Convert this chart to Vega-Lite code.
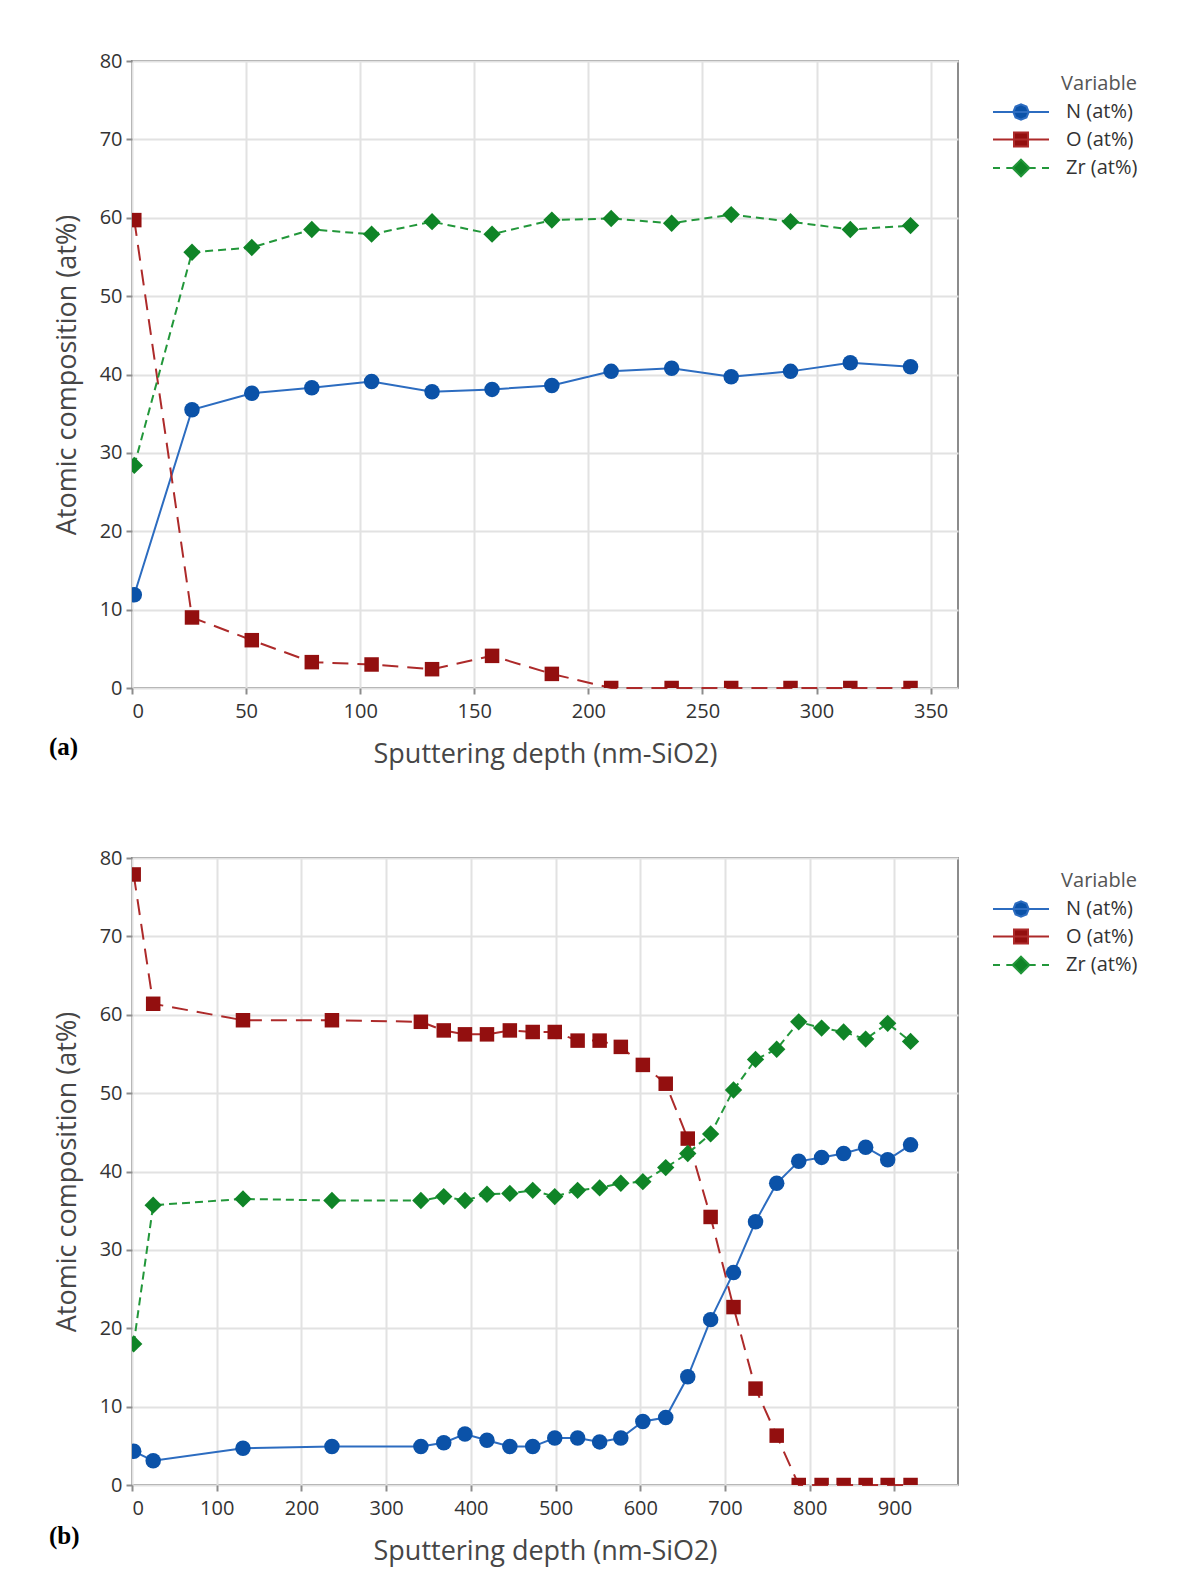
{
  "$schema": "https://vega.github.io/schema/vega-lite/v6.json",
  "background": "white",
  "padding": {"left": 48, "top": 50, "right": 0, "bottom": 20},
  "spacing": 79,
  "resolve": {
    "scale": {"shape": "independent", "fill": "independent", "stroke": "independent"},
    "legend": {"shape": "independent", "fill": "independent", "stroke": "independent"}
  },
  "config": {
    "font": "Open Sans",
    "view": {"stroke": "#8c8c8c", "strokeWidth": 2},
    "axis": {
      "labelFont": "Open Sans", "labelFontSize": 20, "labelColor": "#333333",
      "titleFont": "Open Sans", "titleFontSize": 27, "titleFontWeight": "normal", "titleColor": "#464646",
      "gridColor": "#e2e2e2", "gridWidth": 2, "domain": false,
      "tickColor": "#8c8c8c", "tickWidth": 2, "tickSize": 6
    },
    "axisY": {"titlePadding": 18, "labelPadding": 4},
    "axisX": {"titlePadding": 20, "labelPadding": 7},
    "legend": {
      "orient": "none", "legendX": 879, "legendY": 13, "padding": 0,
      "titleFont": "Open Sans", "titleFontSize": 20, "titleFontWeight": "normal", "titleColor": "#555555",
      "labelFont": "Open Sans", "labelFontSize": 20, "labelColor": "#333333",
      "symbolSize": 196, "symbolStrokeWidth": 2, "labelOffset": 35, "rowPadding": 4.5,
      "titlePadding": 8, "titleAnchor": "end"
    }
  },
  "datasets": {
    "a": [
      {"depth": 1, "Variable": "N (at%)", "value": 11.9},
      {"depth": 26.3, "Variable": "N (at%)", "value": 35.5},
      {"depth": 52.5, "Variable": "N (at%)", "value": 37.6},
      {"depth": 78.8, "Variable": "N (at%)", "value": 38.3},
      {"depth": 105, "Variable": "N (at%)", "value": 39.1},
      {"depth": 131.5, "Variable": "N (at%)", "value": 37.8},
      {"depth": 157.8, "Variable": "N (at%)", "value": 38.1},
      {"depth": 184, "Variable": "N (at%)", "value": 38.6},
      {"depth": 210, "Variable": "N (at%)", "value": 40.4},
      {"depth": 236.5, "Variable": "N (at%)", "value": 40.8},
      {"depth": 262.6, "Variable": "N (at%)", "value": 39.7},
      {"depth": 288.6, "Variable": "N (at%)", "value": 40.4},
      {"depth": 314.8, "Variable": "N (at%)", "value": 41.5},
      {"depth": 341.2, "Variable": "N (at%)", "value": 41.0},
      {"depth": 1, "Variable": "O (at%)", "value": 59.7},
      {"depth": 26.3, "Variable": "O (at%)", "value": 9.0},
      {"depth": 52.5, "Variable": "O (at%)", "value": 6.1},
      {"depth": 78.8, "Variable": "O (at%)", "value": 3.3},
      {"depth": 105, "Variable": "O (at%)", "value": 3.0},
      {"depth": 131.5, "Variable": "O (at%)", "value": 2.4},
      {"depth": 157.8, "Variable": "O (at%)", "value": 4.1},
      {"depth": 184, "Variable": "O (at%)", "value": 1.8},
      {"depth": 210, "Variable": "O (at%)", "value": 0},
      {"depth": 236.5, "Variable": "O (at%)", "value": 0},
      {"depth": 262.6, "Variable": "O (at%)", "value": 0},
      {"depth": 288.6, "Variable": "O (at%)", "value": 0},
      {"depth": 314.8, "Variable": "O (at%)", "value": 0},
      {"depth": 341.2, "Variable": "O (at%)", "value": 0},
      {"depth": 1, "Variable": "Zr (at%)", "value": 28.4},
      {"depth": 26.3, "Variable": "Zr (at%)", "value": 55.6},
      {"depth": 52.5, "Variable": "Zr (at%)", "value": 56.2},
      {"depth": 78.8, "Variable": "Zr (at%)", "value": 58.5},
      {"depth": 105, "Variable": "Zr (at%)", "value": 57.9},
      {"depth": 131.5, "Variable": "Zr (at%)", "value": 59.5},
      {"depth": 157.8, "Variable": "Zr (at%)", "value": 57.9},
      {"depth": 184, "Variable": "Zr (at%)", "value": 59.7},
      {"depth": 210, "Variable": "Zr (at%)", "value": 59.9},
      {"depth": 236.5, "Variable": "Zr (at%)", "value": 59.3},
      {"depth": 262.6, "Variable": "Zr (at%)", "value": 60.4},
      {"depth": 288.6, "Variable": "Zr (at%)", "value": 59.5},
      {"depth": 314.8, "Variable": "Zr (at%)", "value": 58.5},
      {"depth": 341.2, "Variable": "Zr (at%)", "value": 59.0}
    ],
    "b": [
      {"depth": 2, "Variable": "N (at%)", "value": 4.3},
      {"depth": 25, "Variable": "N (at%)", "value": 3.1},
      {"depth": 131, "Variable": "N (at%)", "value": 4.7},
      {"depth": 236, "Variable": "N (at%)", "value": 4.9},
      {"depth": 341, "Variable": "N (at%)", "value": 4.9},
      {"depth": 368, "Variable": "N (at%)", "value": 5.4},
      {"depth": 393, "Variable": "N (at%)", "value": 6.5},
      {"depth": 419, "Variable": "N (at%)", "value": 5.7},
      {"depth": 446, "Variable": "N (at%)", "value": 4.9},
      {"depth": 473, "Variable": "N (at%)", "value": 4.9},
      {"depth": 499, "Variable": "N (at%)", "value": 6.0},
      {"depth": 526, "Variable": "N (at%)", "value": 6.0},
      {"depth": 552, "Variable": "N (at%)", "value": 5.5},
      {"depth": 577, "Variable": "N (at%)", "value": 6.0},
      {"depth": 603, "Variable": "N (at%)", "value": 8.1},
      {"depth": 630, "Variable": "N (at%)", "value": 8.6},
      {"depth": 656, "Variable": "N (at%)", "value": 13.8},
      {"depth": 683, "Variable": "N (at%)", "value": 21.1},
      {"depth": 710, "Variable": "N (at%)", "value": 27.1},
      {"depth": 736, "Variable": "N (at%)", "value": 33.6},
      {"depth": 761, "Variable": "N (at%)", "value": 38.5},
      {"depth": 787, "Variable": "N (at%)", "value": 41.3},
      {"depth": 814, "Variable": "N (at%)", "value": 41.8},
      {"depth": 840, "Variable": "N (at%)", "value": 42.3},
      {"depth": 866, "Variable": "N (at%)", "value": 43.1},
      {"depth": 892, "Variable": "N (at%)", "value": 41.5},
      {"depth": 919, "Variable": "N (at%)", "value": 43.4},
      {"depth": 2, "Variable": "O (at%)", "value": 77.9},
      {"depth": 25, "Variable": "O (at%)", "value": 61.4},
      {"depth": 131, "Variable": "O (at%)", "value": 59.3},
      {"depth": 236, "Variable": "O (at%)", "value": 59.3},
      {"depth": 341, "Variable": "O (at%)", "value": 59.1},
      {"depth": 368, "Variable": "O (at%)", "value": 58.0},
      {"depth": 393, "Variable": "O (at%)", "value": 57.5},
      {"depth": 419, "Variable": "O (at%)", "value": 57.5},
      {"depth": 446, "Variable": "O (at%)", "value": 58.0},
      {"depth": 473, "Variable": "O (at%)", "value": 57.8},
      {"depth": 499, "Variable": "O (at%)", "value": 57.8},
      {"depth": 526, "Variable": "O (at%)", "value": 56.7},
      {"depth": 552, "Variable": "O (at%)", "value": 56.7},
      {"depth": 577, "Variable": "O (at%)", "value": 55.9},
      {"depth": 603, "Variable": "O (at%)", "value": 53.6},
      {"depth": 630, "Variable": "O (at%)", "value": 51.2},
      {"depth": 656, "Variable": "O (at%)", "value": 44.2},
      {"depth": 683, "Variable": "O (at%)", "value": 34.2},
      {"depth": 710, "Variable": "O (at%)", "value": 22.7},
      {"depth": 736, "Variable": "O (at%)", "value": 12.3},
      {"depth": 761, "Variable": "O (at%)", "value": 6.3},
      {"depth": 787, "Variable": "O (at%)", "value": 0},
      {"depth": 814, "Variable": "O (at%)", "value": 0},
      {"depth": 840, "Variable": "O (at%)", "value": 0},
      {"depth": 866, "Variable": "O (at%)", "value": 0},
      {"depth": 892, "Variable": "O (at%)", "value": 0},
      {"depth": 919, "Variable": "O (at%)", "value": 0},
      {"depth": 2, "Variable": "Zr (at%)", "value": 18.0},
      {"depth": 25, "Variable": "Zr (at%)", "value": 35.7},
      {"depth": 131, "Variable": "Zr (at%)", "value": 36.5},
      {"depth": 236, "Variable": "Zr (at%)", "value": 36.3},
      {"depth": 341, "Variable": "Zr (at%)", "value": 36.3},
      {"depth": 368, "Variable": "Zr (at%)", "value": 36.8},
      {"depth": 393, "Variable": "Zr (at%)", "value": 36.3},
      {"depth": 419, "Variable": "Zr (at%)", "value": 37.1},
      {"depth": 446, "Variable": "Zr (at%)", "value": 37.2},
      {"depth": 473, "Variable": "Zr (at%)", "value": 37.6},
      {"depth": 499, "Variable": "Zr (at%)", "value": 36.8},
      {"depth": 526, "Variable": "Zr (at%)", "value": 37.6},
      {"depth": 552, "Variable": "Zr (at%)", "value": 37.9},
      {"depth": 577, "Variable": "Zr (at%)", "value": 38.5},
      {"depth": 603, "Variable": "Zr (at%)", "value": 38.7},
      {"depth": 630, "Variable": "Zr (at%)", "value": 40.5},
      {"depth": 656, "Variable": "Zr (at%)", "value": 42.3},
      {"depth": 683, "Variable": "Zr (at%)", "value": 44.8},
      {"depth": 710, "Variable": "Zr (at%)", "value": 50.4},
      {"depth": 736, "Variable": "Zr (at%)", "value": 54.3},
      {"depth": 761, "Variable": "Zr (at%)", "value": 55.6},
      {"depth": 787, "Variable": "Zr (at%)", "value": 59.1},
      {"depth": 814, "Variable": "Zr (at%)", "value": 58.3},
      {"depth": 840, "Variable": "Zr (at%)", "value": 57.8},
      {"depth": 866, "Variable": "Zr (at%)", "value": 56.9},
      {"depth": 892, "Variable": "Zr (at%)", "value": 58.9},
      {"depth": 919, "Variable": "Zr (at%)", "value": 56.6}
    ]
  },
  "vconcat": [
    {
      "width": 826, "height": 627,
      "data": {"name": "a"},
      "title": {"text": "(a)", "orient": "bottom", "anchor": "start", "frame": "group", "font": "Liberation Serif", "fontSize": 25, "fontWeight": "bold", "color": "#000000", "dx": -83, "dy": -36},
      "encoding": {
        "x": {"field": "depth", "type": "quantitative", "scale": {"domain": [0, 362], "nice": false, "zero": false},
              "axis": {"values": [0, 50, 100, 150, 200, 250, 300, 350], "title": "Sputtering depth (nm-SiO2)"}},
        "y": {"field": "value", "type": "quantitative", "scale": {"domain": [0, 80], "nice": false},
              "axis": {"values": [0, 10, 20, 30, 40, 50, 60, 70, 80], "title": "Atomic composition (at%)"}}
      },
      "layer": [
        {"transform": [{"filter": "datum.Variable === 'N (at%)'"}], "mark": {"type": "line", "strokeWidth": 2, "color": "#2c6cc0"}, "encoding": {}},
        {"transform": [{"filter": "datum.Variable === 'O (at%)'"}], "mark": {"type": "line", "strokeWidth": 2, "color": "#ad2a2a", "strokeDash": [16, 9]}, "encoding": {}},
        {"transform": [{"filter": "datum.Variable === 'Zr (at%)'"}], "mark": {"type": "line", "strokeWidth": 2, "color": "#22973a", "strokeDash": [8, 5]}, "encoding": {}},
        {"transform": [{"filter": "datum.Variable === 'N (at%)'"}], "mark": {"type": "point", "shape": "circle", "filled": true, "opacity": 1, "size": 240, "color": "#0b52a8", "clip": true}, "encoding": {}},
        {"transform": [{"filter": "datum.Variable === 'O (at%)'"}], "mark": {"type": "point", "shape": "square", "filled": true, "opacity": 1, "size": 210, "color": "#930f0f", "clip": true}, "encoding": {}},
        {"transform": [{"filter": "datum.Variable === 'Zr (at%)'"}], "mark": {"type": "point", "shape": "diamond", "filled": true, "opacity": 1, "size": 300, "color": "#0f8427", "clip": true}, "encoding": {}},
        {"transform": [{"filter": "false"}],
         "mark": {"type": "point", "filled": true, "opacity": 1, "strokeWidth": 2},
         "encoding": {
           "shape": {"field": "Variable", "type": "nominal", "title": "Variable", "scale": {"domain": ["N (at%)", "O (at%)", "Zr (at%)"], "range": [
             "M-4,0H4M1.1,0L0.78,0.78L0,1.1L-0.78,0.78L-1.1,0L-0.78,-0.78L0,-1.1L0.78,-0.78Z",
             "M-4,0H4M-1,-1H1V1H-1Z",
             "M-4,0H-3M-2.1,0H-1.2M1.2,0H2.1M3,0H4M0,-1.2L1.2,0L0,1.2L-1.2,0Z"]}},
           "fill": {"field": "Variable", "type": "nominal", "title": "Variable", "scale": {"domain": ["N (at%)", "O (at%)", "Zr (at%)"], "range": ["#0b52a8", "#930f0f", "#0f8427"]}},
           "stroke": {"field": "Variable", "type": "nominal", "title": "Variable", "scale": {"domain": ["N (at%)", "O (at%)", "Zr (at%)"], "range": ["#2c6cc0", "#ad2a2a", "#22973a"]}}
         }}
      ]
    },
    {
      "width": 826, "height": 627,
      "data": {"name": "b"},
      "title": {"text": "(b)", "orient": "bottom", "anchor": "start", "frame": "group", "font": "Liberation Serif", "fontSize": 25, "fontWeight": "bold", "color": "#000000", "dx": -83, "dy": -44},
      "encoding": {
        "x": {"field": "depth", "type": "quantitative", "scale": {"domain": [0, 975], "nice": false, "zero": false},
              "axis": {"values": [0, 100, 200, 300, 400, 500, 600, 700, 800, 900], "title": "Sputtering depth (nm-SiO2)"}},
        "y": {"field": "value", "type": "quantitative", "scale": {"domain": [0, 80], "nice": false},
              "axis": {"values": [0, 10, 20, 30, 40, 50, 60, 70, 80], "title": "Atomic composition (at%)"}}
      },
      "layer": [
        {"transform": [{"filter": "datum.Variable === 'N (at%)'"}], "mark": {"type": "line", "strokeWidth": 2, "color": "#2c6cc0"}, "encoding": {}},
        {"transform": [{"filter": "datum.Variable === 'O (at%)'"}], "mark": {"type": "line", "strokeWidth": 2, "color": "#ad2a2a", "strokeDash": [16, 9]}, "encoding": {}},
        {"transform": [{"filter": "datum.Variable === 'Zr (at%)'"}], "mark": {"type": "line", "strokeWidth": 2, "color": "#22973a", "strokeDash": [8, 5]}, "encoding": {}},
        {"transform": [{"filter": "datum.Variable === 'N (at%)'"}], "mark": {"type": "point", "shape": "circle", "filled": true, "opacity": 1, "size": 240, "color": "#0b52a8", "clip": true}, "encoding": {}},
        {"transform": [{"filter": "datum.Variable === 'O (at%)'"}], "mark": {"type": "point", "shape": "square", "filled": true, "opacity": 1, "size": 210, "color": "#930f0f", "clip": true}, "encoding": {}},
        {"transform": [{"filter": "datum.Variable === 'Zr (at%)'"}], "mark": {"type": "point", "shape": "diamond", "filled": true, "opacity": 1, "size": 300, "color": "#0f8427", "clip": true}, "encoding": {}},
        {"transform": [{"filter": "false"}],
         "mark": {"type": "point", "filled": true, "opacity": 1, "strokeWidth": 2},
         "encoding": {
           "shape": {"field": "Variable", "type": "nominal", "title": "Variable", "scale": {"domain": ["N (at%)", "O (at%)", "Zr (at%)"], "range": [
             "M-4,0H4M1.1,0L0.78,0.78L0,1.1L-0.78,0.78L-1.1,0L-0.78,-0.78L0,-1.1L0.78,-0.78Z",
             "M-4,0H4M-1,-1H1V1H-1Z",
             "M-4,0H-3M-2.1,0H-1.2M1.2,0H2.1M3,0H4M0,-1.2L1.2,0L0,1.2L-1.2,0Z"]}},
           "fill": {"field": "Variable", "type": "nominal", "title": "Variable", "scale": {"domain": ["N (at%)", "O (at%)", "Zr (at%)"], "range": ["#0b52a8", "#930f0f", "#0f8427"]}},
           "stroke": {"field": "Variable", "type": "nominal", "title": "Variable", "scale": {"domain": ["N (at%)", "O (at%)", "Zr (at%)"], "range": ["#2c6cc0", "#ad2a2a", "#22973a"]}}
         }}
      ]
    }
  ]
}
